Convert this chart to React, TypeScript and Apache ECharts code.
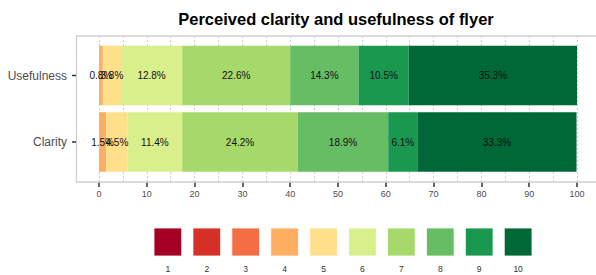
import React, { useEffect, useRef } from "react";
import * as echarts from "echarts";

const title = "Perceived clarity and usefulness of flyer";
const categories = ["Clarity", "Usefulness"];
const levels = ["1", "2", "3", "4", "5", "6", "7", "8", "9", "10"];
const levelColors = [
  "#a50026", "#d73027", "#f46d43", "#fdae61", "#fee08b",
  "#d9ef8b", "#a6d96a", "#66bd63", "#1a9850", "#006837",
];
// percentages per level (1..10)
const clarity = [0, 0, 0, 1.5, 4.5, 11.4, 24.2, 18.9, 6.1, 33.3];
const usefulness = [0, 0, 0, 0.8, 3.8, 12.8, 22.6, 14.3, 10.5, 35.3];
const xTicks = [0, 10, 20, 30, 40, 50, 60, 70, 80, 90, 100];

const FONT = "Liberation Sans, Arial, Helvetica, sans-serif";

export default function App() {
  const ref = useRef<HTMLDivElement>(null);
  useEffect(() => {
    if (!ref.current) return;
    const chart = echarts.init(ref.current, undefined, { renderer: "svg" });

    const series = levels.map((lv, i) => ({
      name: lv,
      type: "bar",
      stack: "total",
      xAxisIndex: 1,
      yAxisIndex: 1,
      barWidth: 59.5,
      itemStyle: { color: levelColors[i] },
      label: {
        show: true,
        position: "inside",
        color: "#111111",
        fontSize: 10,
        fontFamily: FONT,
        formatter: (p: any) => (p.value > 0 ? p.value.toFixed(1) + "%" : ""),
      },
      data: [clarity[i], usefulness[i]],
    }));

    const legendStart = 154;
    const legendStep = 38.92;
    const legendGraphics: any[] = [];
    levels.forEach((lv, i) => {
      legendGraphics.push({
        type: "rect",
        shape: { x: legendStart + i * legendStep, y: 228, width: 27.7, height: 28 },
        style: { fill: levelColors[i], stroke: "#ffffff", lineWidth: 0.8 },
      });
      legendGraphics.push({
        type: "text",
        x: legendStart + i * legendStep + 13.85,
        y: 269,
        style: {
          text: lv,
          font: `8.5px ${FONT}`,
          fill: "#333333",
          textAlign: "center",
          textVerticalAlign: "middle",
        },
      });
    });

    const baseGraphics: any[] = [
      {
        type: "rect",
        shape: { x: 76.5, y: 36, width: 530, height: 146 },
        style: { fill: "none", stroke: "#cfcfcf", lineWidth: 1.3 },
        z: 100,
      },
      {
        type: "text",
        x: 336,
        y: 19,
        style: {
          text: title,
          font: `bold 16.5px ${FONT}`,
          fill: "#000000",
          textAlign: "center",
          textVerticalAlign: "middle",
        },
      },
      ...legendGraphics,
    ];

    chart.setOption({
      animation: false,
      backgroundColor: "#ffffff",
      grid: [
        { left: 99, top: 36, width: 478, height: 146 },
        { left: 99, top: 42.25, width: 478, height: 133 },
      ],
      xAxis: [
        {
          gridIndex: 0,
          type: "value",
          min: 0,
          max: 100,
          interval: 10,
          axisLine: { show: false },
          axisTick: { show: true, length: 5, lineStyle: { color: "#333333", width: 1.5 } },
          axisLabel: {
            show: true,
            margin: 7,
            fontSize: 9,
            color: "#4d4d4d",
            fontFamily: FONT,
            customValues: xTicks,
          },
          splitLine: { show: true, lineStyle: { color: "#cccccc", type: [2, 2], width: 1 } },
          minorTick: { show: false, splitNumber: 2 },
          minorSplitLine: { show: true, lineStyle: { color: "#cccccc", type: [2, 2], width: 1 } },
        },
        { gridIndex: 1, type: "value", min: 0, max: 100, show: false },
      ],
      yAxis: [
        { gridIndex: 0, type: "value", show: false },
        {
          gridIndex: 1,
          type: "category",
          data: categories,
          offset: 23,
          axisLine: { show: false },
          axisTick: { show: false },
          axisLabel: { fontSize: 12, color: "#4d4d4d", fontFamily: FONT, margin: 9 },
          splitLine: { show: false },
        },
      ],
      series,
      graphic: baseGraphics,
    });

    // y-axis ticks at category centres, positioned via the axis scale
    const tickGraphics = categories.map((c) => {
      const py = chart.convertToPixel({ yAxisIndex: 1 }, c) as number;
      return {
        type: "line",
        shape: { x1: 72, y1: py, x2: 76, y2: py },
        style: { stroke: "#333333", lineWidth: 1.5 },
        z: 100,
      };
    });
    chart.setOption({ graphic: [...baseGraphics, ...tickGraphics] });

    return () => chart.dispose();
  }, []);
  return (
    <div
      ref={ref}
      style={{ position: "fixed", left: 0, top: 0, width: 596, height: 275 }}
    />
  );
}
